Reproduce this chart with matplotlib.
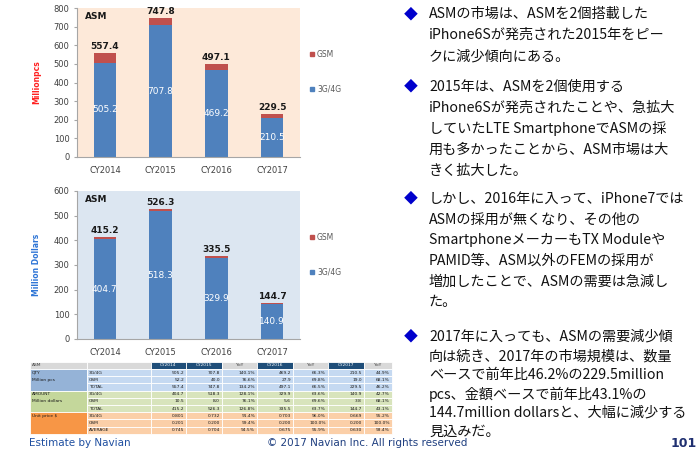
import matplotlib
matplotlib.use("Agg")
import matplotlib.pyplot as plt
from matplotlib.patches import Patch, Rectangle

# chart data
categories = ["CY2014", "CY2015", "CY2016", "CY2017"]
qty_3g4g = [505.2, 707.8, 469.2, 210.5]
qty_gsm = [52.2, 40.0, 27.9, 19.0]
qty_total = [557.4, 747.8, 497.1, 229.5]
amt_3g4g = [404.7, 518.3, 329.9, 140.9]
amt_gsm = [10.5, 8.0, 5.6, 3.8]
amt_total = [415.2, 526.3, 335.5, 144.7]

# table under the charts
table_header = ["ASM", "", "CY2014", "CY2015", "YoY", "CY2016", "YoY", "CY2017", "YoY"]
table_groups = ["QTY\nMillion pcs", "AMOUNT\nMillion dollars", "Unit price $"]
table_items = ["3G/4G", "GSM", "TOTAL", "3G/4G", "GSM", "TOTAL", "3G/4G", "GSM", "AVERAGE"]
table_rows = [
    ["505.2", "707.8", "140.1%", "469.2", "66.3%", "210.5", "44.9%"],
    ["52.2", "40.0", "76.6%", "27.9", "69.8%", "19.0", "68.1%"],
    ["557.4", "747.8", "134.2%", "497.1", "66.5%", "229.5", "46.2%"],
    ["404.7", "518.3", "128.1%", "329.9", "63.6%", "140.9", "42.7%"],
    ["10.5", "8.0", "76.1%", "5.6", "69.6%", "3.8", "68.1%"],
    ["415.2", "526.3", "126.8%", "335.5", "63.7%", "144.7", "43.1%"],
    ["0.801", "0.732", "91.4%", "0.703", "96.0%", "0.669", "95.2%"],
    ["0.201", "0.200", "99.4%", "0.200", "100.0%", "0.200", "100.0%"],
    ["0.745", "0.704", "94.5%", "0.675", "95.9%", "0.630", "93.4%"],
]

bullets = [
    ["ASMの市場は、ASMを2個搭載した",
     "iPhone6Sが発売された2015年をピー",
     "クに減少傾向にある。"],
    ["2015年は、ASMを2個使用する",
     "iPhone6Sが発売されたことや、急拡大",
     "していたLTE SmartphoneでASMの採",
     "用も多かったことから、ASM市場は大",
     "きく拡大した。"],
    ["しかし、2016年に入って、iPhone7では",
     "ASMの採用が無くなり、その他の",
     "SmartphoneメーカーもTX Moduleや",
     "PAMID等、ASM以外のFEMの採用が",
     "増加したことで、ASMの需要は急減し",
     "た。"],
    ["2017年に入っても、ASMの需要減少傾",
     "向は続き、2017年の市場規模は、数量",
     "ベースで前年比46.2%の229.5million",
     "pcs、金額ベースで前年比43.1%の",
     "144.7million dollarsと、大幅に減少する",
     "見込みだ。"],
]

BLUE = "#4f81bd"
RED = "#c0504d"
W, H = 700, 450

fig = plt.figure(figsize=(7, 4.5), dpi=100)
fig.patch.set_facecolor("white")


def bar_chart(top_px, bottom_px, lower, upper, totals, ymax, bg, ylabel, ycolor):
    ax = fig.add_axes([77 / W, 1 - bottom_px / H, 223 / W, (bottom_px - top_px) / H])
    ax.set_facecolor(bg)
    x = range(len(categories))
    ax.bar(x, lower, 0.4, color=BLUE, zorder=2)
    ax.bar(x, upper, 0.4, bottom=lower, color=RED, zorder=2)
    for i in x:
        ax.text(i, lower[i] / 2, f"{lower[i]:.1f}", color="white",
                ha="center", va="center", fontsize=6.5, zorder=3)
        ax.annotate(f"{totals[i]:.1f}", (i, totals[i]), xytext=(0, 1.5),
                    textcoords="offset points", ha="center", va="bottom",
                    fontsize=6.5, fontweight="bold", color="#1a1a1a")
    ax.set_xlim(-0.5, len(categories) - 0.5)
    ax.set_ylim(0, ymax)
    ax.set_yticks(range(0, ymax + 1, 100))
    ax.set_xticks(list(x))
    ax.set_xticklabels(categories)
    ax.tick_params(axis="y", labelsize=6, labelcolor="#404040", color="#a6a6a6",
                   length=2.5, pad=3)
    ax.tick_params(axis="x", labelsize=6, labelcolor="#404040", length=0, pad=6.5)
    for s in ("top", "right"):
        ax.spines[s].set_visible(False)
    for s in ("left", "bottom"):
        ax.spines[s].set_color("#a6a6a6")
        ax.spines[s].set_linewidth(0.8)
    ax.text(0.035, 0.945, "ASM", transform=ax.transAxes, fontsize=6.5,
            fontweight="bold", va="center", color="#1a1a1a")
    ax.set_ylabel(ylabel, color=ycolor, fontsize=5.5, fontweight="bold")
    ax.yaxis.set_label_coords(-0.16, 0.5)
    handles = [Patch(color=RED, label="GSM"), Patch(color=BLUE, label="3G/4G")]
    ax.legend(handles=handles, loc="upper left", bbox_to_anchor=(1.03, 0.74),
              frameon=False, fontsize=5.5, labelcolor="#595959", handlelength=0.55,
              handleheight=0.55, handletextpad=0.4, labelspacing=3.4,
              borderaxespad=0)
    return ax


bar_chart(8, 157, qty_3g4g, qty_gsm, qty_total, 800, "#fde9d9", "Millionpcs", "#ff2020")
bar_chart(191, 339, amt_3g4g, amt_gsm, amt_total, 600, "#dce6f1", "Million Dollars", "#2e75d6")

# overlay in pixel coordinates for the table and the text
ov = fig.add_axes([0, 0, 1, 1])
ov.set_xlim(0, W)
ov.set_ylim(H, 0)
ov.axis("off")

col_edges = [30, 87, 151, 186, 222, 257, 293, 328, 364, 392]
head_top, head_bot = 362, 369
row_h = 7.2
group_first = ["#95b3d7", "#c4d79b", "#f79646"]
group_cell = ["#c5d9f1", "#d8e4bc", "#fbcfa8"]
tfs = 3.2

# header
for j, lab in enumerate(table_header):
    x0, x1 = col_edges[j], col_edges[j + 1]
    if lab.startswith("CY"):
        fc, tc = "#1f4e79", "white"
    else:
        fc, tc = "#d9d9d9", "#404040"
    ov.add_patch(Rectangle((x0, head_top), x1 - x0, head_bot - head_top,
                           facecolor=fc, edgecolor="white", lw=0.6))
    if lab:
        if j == 0:
            ov.text(x0 + 2, (head_top + head_bot) / 2, lab, fontsize=tfs,
                    color=tc, va="center", ha="left")
        else:
            ov.text((x0 + x1) / 2, (head_top + head_bot) / 2, lab, fontsize=tfs,
                    color=tc, va="center", ha="center")

# body
for g in range(3):
    gy0 = head_bot + g * 3 * row_h
    ov.add_patch(Rectangle((col_edges[0], gy0), col_edges[1] - col_edges[0], 3 * row_h,
                           facecolor=group_first[g], edgecolor="white", lw=0.6))
    for k, part in enumerate(table_groups[g].split("\n")):
        ov.text(col_edges[0] + 2, gy0 + row_h * (k + 0.5), part, fontsize=tfs,
                color="#1a1a1a", va="center", ha="left")
    for r in range(3):
        idx = g * 3 + r
        y0 = gy0 + r * row_h
        for j in range(1, len(col_edges) - 1):
            x0, x1 = col_edges[j], col_edges[j + 1]
            ov.add_patch(Rectangle((x0, y0), x1 - x0, row_h, facecolor=group_cell[g],
                                   edgecolor="white", lw=0.6))
        ov.text(col_edges[1] + 2, y0 + row_h / 2, table_items[idx], fontsize=tfs,
                color="#1a1a1a", va="center", ha="left")
        for j, val in enumerate(table_rows[idx]):
            ov.text(col_edges[j + 3] - 2, y0 + row_h / 2, val, fontsize=tfs,
                    color="#1a1a1a", va="center", ha="right")

# bullet text on the right
jp = ["Noto Sans CJK JP", "DejaVu Sans"]
para_start = [14, 87, 199, 337]
line_step = [21, 21, 20.6, 19]
for p, lines in enumerate(bullets):
    ov.text(411, para_start[p], "◆", fontsize=10, color="#0000cc", family=jp,
            ha="center", va="center")
    for k, line in enumerate(lines):
        ov.text(429, para_start[p] + k * line_step[p], line, fontsize=10.2,
                family=jp, color="#111111", ha="left", va="center")

# footer along the bottom edge
ov.text(29, 446.5, "Estimate by Navian", fontsize=7.5, color="#1f4fa0",
        ha="left", va="baseline")
ov.text(267, 446.5, "© 2017 Navian Inc. All rights reserved", fontsize=7.5,
        color="#1f3f80", ha="left", va="baseline")
ov.text(697, 447, "101", fontsize=9, fontweight="bold", color="#1f2f70",
        ha="right", va="baseline")

fig.savefig("out.png", dpi=100, facecolor="white")
